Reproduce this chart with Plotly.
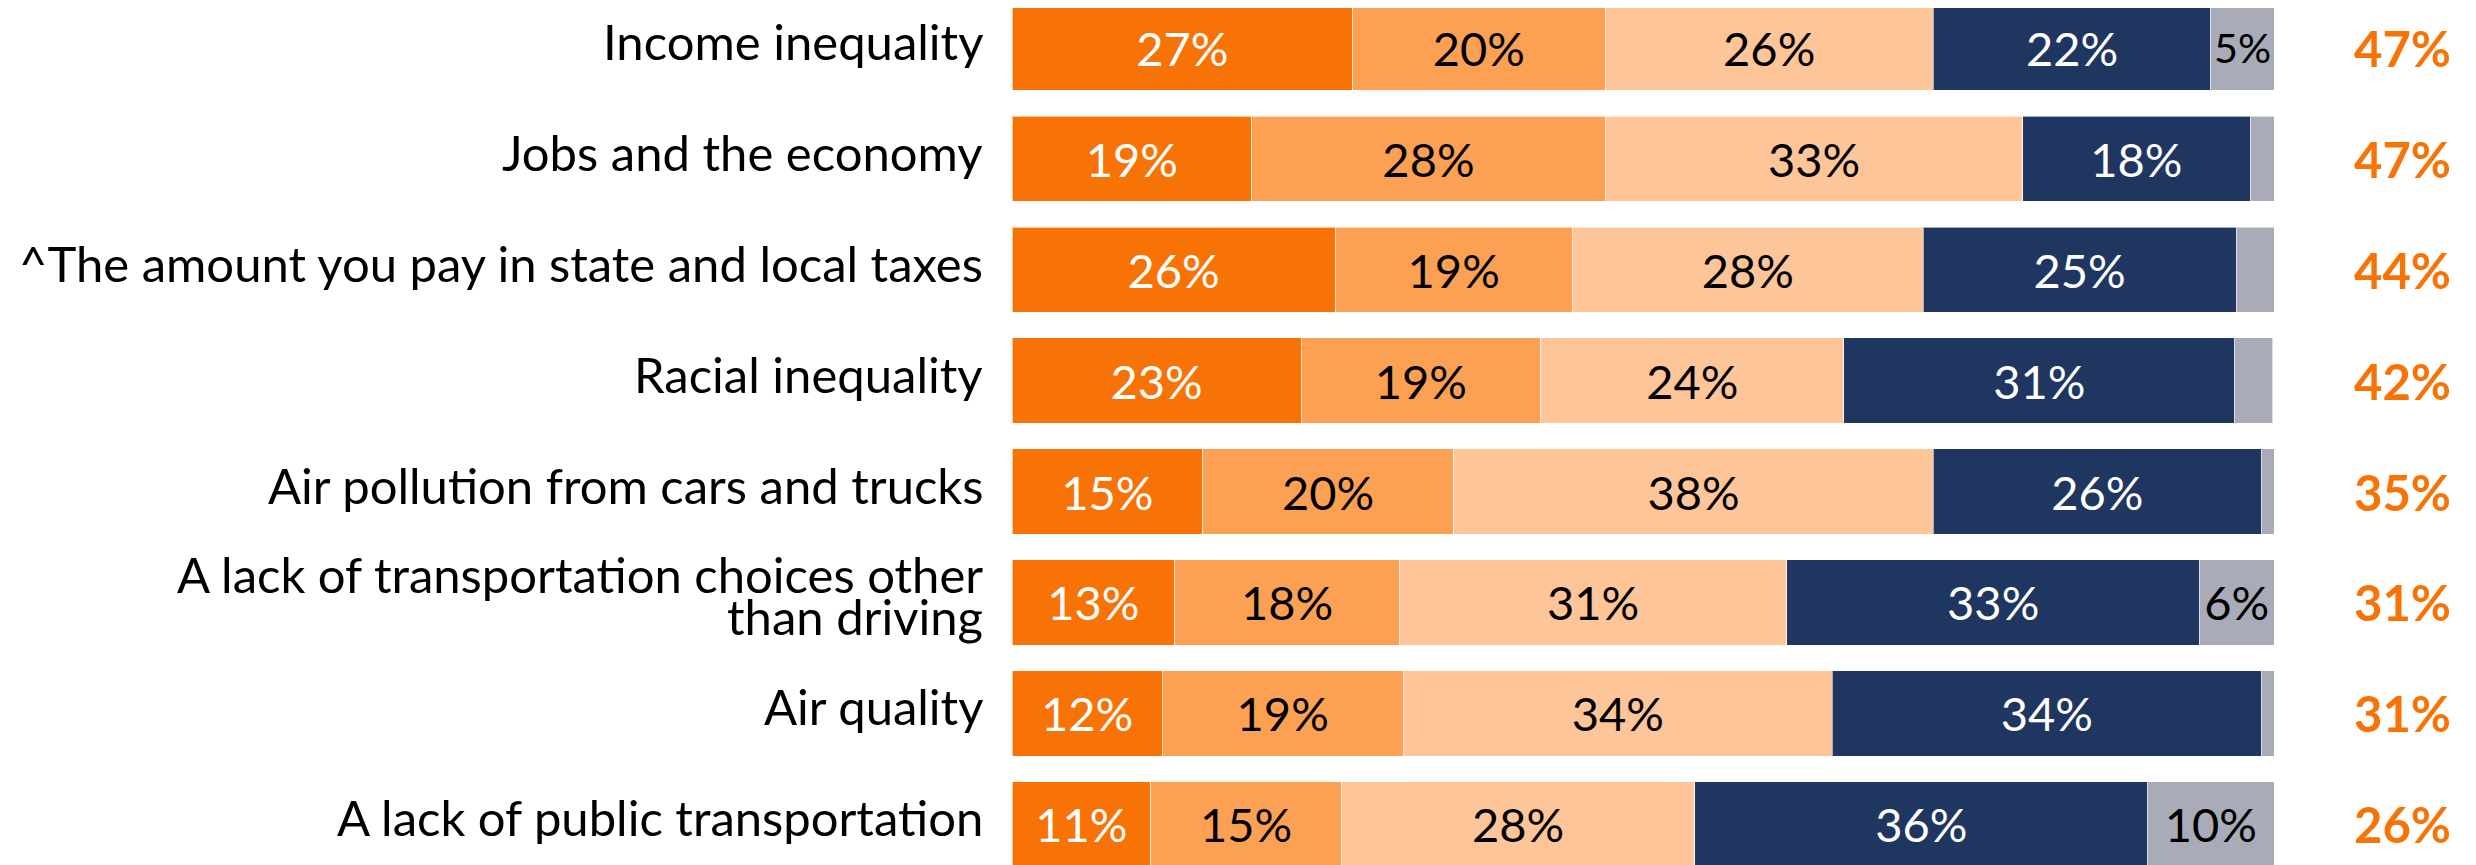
import plotly.graph_objects as go

categories = [
    "Income inequality",
    "Jobs and the economy",
    "^The amount you pay in state and local taxes",
    "Racial inequality",
    "Air pollution from cars and trucks",
    "A lack of transportation choices other<br>than driving",
    "Air quality",
    "A lack of public transportation",
]

# segment shares per row
very_serious = [27.0, 19.0, 25.6, 22.9, 15.1, 12.9, 11.9, 11.0]
somewhat_serious = [20.0, 28.0, 18.8, 19.0, 19.9, 17.8, 19.1, 15.1]
minor = [26.0, 33.1, 27.8, 24.0, 38.0, 30.7, 34.0, 28.0]
not_problem = [22.0, 18.0, 24.8, 31.0, 26.0, 32.7, 34.0, 35.9]
dont_know = [5.0, 1.9, 3.0, 3.0, 1.0, 5.9, 1.0, 10.0]

totals = ["47%", "47%", "44%", "42%", "35%", "31%", "31%", "26%"]

series = [
    ("Very serious", very_serious, "#F77306", "white"),
    ("Somewhat serious", somewhat_serious, "#FCA154", "black"),
    ("Minor", minor, "#FEC598", "black"),
    ("Not a problem", not_problem, "#1E3660", "white"),
    ("Don't know", dont_know, "#A9ABB8", "black"),
]

FONT = "Lato"
rows = list(range(len(categories)))

fig = go.Figure()
for name, vals, color, tcolor in series:
    fig.add_trace(go.Bar(
        y=rows,
        x=vals,
        name=name,
        orientation="h",
        width=0.766,
        marker=dict(color=color, line=dict(color="rgba(255,255,255,0.6)", width=1)),
        text=[f"{v:.0f}%" if v >= 4 else "" for v in vals],
        textposition="inside",
        insidetextanchor="middle",
        textangle=0,
        insidetextfont=dict(family=FONT, size=47, color=tcolor),
        hoverinfo="skip",
    ))

annotations = []
for i, cat in enumerate(categories):
    lines = cat.split("<br>")
    n = len(lines)
    for j, line in enumerate(lines):
        annotations.append(dict(
            xref="paper", yref="y", x=-0.0215, y=i,
            text=line, showarrow=False, xanchor="right", yanchor="middle",
            yshift=7 + (n - 1) * 21 - j * 42,
            font=dict(family=FONT, size=49, color="black"),
        ))
    annotations.append(dict(
        xref="paper", yref="y", x=1.102, y=i,
        text=totals[i], showarrow=False, xanchor="center", yanchor="middle",
        font=dict(family=FONT, size=49, color="#F77306", weight="bold"),
    ))

# page body has an 8px margin, so the figure is sized to fit the window
fig.update_layout(
    barmode="stack",
    width=2468,
    height=857,
    margin=dict(l=1004, r=202, t=0, b=0),
    plot_bgcolor="white",
    paper_bgcolor="white",
    showlegend=False,
    annotations=annotations,
    xaxis=dict(range=[0, 100], visible=False, fixedrange=True),
    yaxis=dict(range=[7.365, -0.356], visible=False, fixedrange=True),
)

fig.write_html("out.html")
